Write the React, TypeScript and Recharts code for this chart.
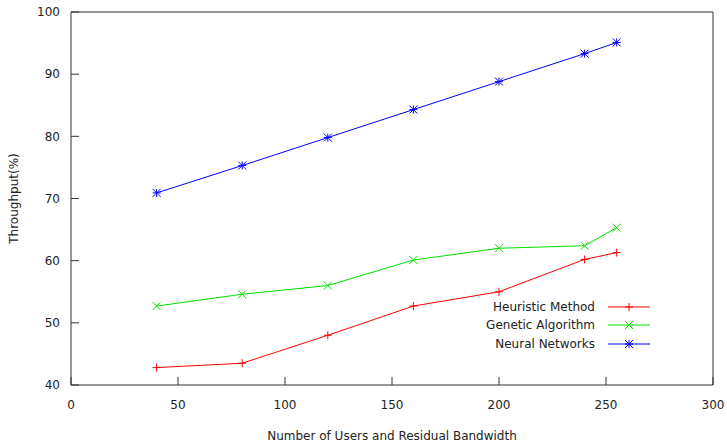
import { LineChart, Line, XAxis, YAxis, Legend } from 'recharts'

const users = [40, 80, 120, 160, 200, 240, 255]
const heuristic = [42.8, 43.5, 48.0, 52.7, 55.0, 60.2, 61.3]
const genetic = [52.7, 54.6, 56.0, 60.1, 62.0, 62.4, 65.3]
const neural = [70.9, 75.3, 79.8, 84.3, 88.8, 93.3, 95.1]

const xTicks = [0, 50, 100, 150, 200, 250, 300]
const yTicks = [40, 50, 60, 70, 80, 90, 100]

const SERIES = [
    { key: 'heuristic', name: 'Heuristic Method', color: '#ff0000', marker: 'plus' },
    { key: 'genetic', name: 'Genetic Algorithm', color: '#00e000', marker: 'cross' },
    { key: 'neural', name: 'Neural Networks', color: '#0000ff', marker: 'star' },
]

const FONT = 'DejaVu Sans, sans-serif'
const AXIS = '#333'

const data = users.map((x, i) => ({
    x,
    heuristic: heuristic[i],
    genetic: genetic[i],
    neural: neural[i],
}))

function markerPath(type: string, cx: number, cy: number) {
    const s = 4
    const plus = `M${cx - s},${cy}H${cx + s}M${cx},${cy - s}V${cy + s}`
    const cross = `M${cx - s},${cy - s}L${cx + s},${cy + s}M${cx - s},${cy + s}L${cx + s},${cy - s}`
    if (type === 'plus') return plus
    if (type === 'cross') return cross
    return plus + cross
}

const makeDot = (type: string, color: string) => (props: any) => {
    const { cx, cy, index } = props
    if (cx == null || cy == null) return <g key={`d-${type}-${index}`} />
    return <path key={`d-${type}-${index}`} d={markerPath(type, cx, cy)} stroke={color} strokeWidth={1} fill="none" />
}

function LegendBox() {
    return (
        <div style={{ fontFamily: FONT, fontSize: 12, color: '#222' }}>
            {SERIES.map(s => (
                <div key={s.key} style={{ display: 'flex', height: 18.3, lineHeight: '18.3px', alignItems: 'center' }}>
                    <span style={{ width: 145, textAlign: 'right', whiteSpace: 'nowrap' }}>{s.name}</span>
                    <svg width={60} height={18}>
                        <line x1={13} x2={55} y1={9} y2={9} stroke={s.color} strokeWidth={1} />
                        <path d={markerPath(s.marker, 34, 9)} stroke={s.color} strokeWidth={1} fill="none" />
                    </svg>
                </div>
            ))}
        </div>
    )
}

export default function App() {
    const tickStyle = { fontFamily: FONT, fontSize: 12, fill: '#222' }
    return (
        <div style={{ position: 'absolute', left: 0, top: 0, background: '#fff' }}>
            <LineChart width={727} height={443} data={data} margin={{ top: 11, right: 13, bottom: 0, left: 11 }}>
                <XAxis
                    dataKey="x"
                    type="number"
                    domain={[0, 300]}
                    ticks={xTicks}
                    height={58}
                    tickSize={-8}
                    tickMargin={23}
                    tick={tickStyle}
                    stroke={AXIS}
                    interval={0}
                    label={{ value: 'Number of Users and Residual Bandwidth', position: 'insideBottom', offset: 3, style: { fontFamily: FONT, fontSize: 12, fill: '#222' } }}
                />
                <XAxis xAxisId="top" orientation="top" dataKey="x" type="number" domain={[0, 300]} ticks={xTicks} height={1} tickSize={-8} tick={false} stroke={AXIS} interval={0} />
                <YAxis
                    type="number"
                    domain={[40, 100]}
                    ticks={yTicks}
                    width={60}
                    tickSize={-8}
                    tickMargin={19}
                    tick={tickStyle}
                    stroke={AXIS}
                    interval={0}
                    label={{ value: 'Throughput(%)', angle: -90, position: 'insideLeft', offset: 3, style: { fontFamily: FONT, fontSize: 12, fill: '#222', textAnchor: 'middle' } }}
                />
                <YAxis yAxisId="right" orientation="right" type="number" domain={[40, 100]} ticks={yTicks} width={1} tickSize={-8} tick={false} stroke={AXIS} interval={0} />
                <Legend
                    layout="vertical"
                    align="center"
                    verticalAlign="middle"
                    content={() => <LegendBox />}
                    wrapperStyle={{ left: 450, top: 298, width: 210 }}
                />
                {SERIES.map(s => (
                    <Line
                        key={s.key}
                        type="linear"
                        dataKey={s.key}
                        name={s.name}
                        stroke={s.color}
                        strokeWidth={1}
                        dot={makeDot(s.marker, s.color)}
                        activeDot={false}
                        isAnimationActive={false}
                    />
                ))}
                {/* invisible series so the mirrored top/right axes get drawn */}
                <Line
                    xAxisId="top"
                    yAxisId="right"
                    dataKey="neural"
                    stroke="none"
                    strokeWidth={0}
                    dot={false}
                    activeDot={false}
                    legendType="none"
                    isAnimationActive={false}
                />
            </LineChart>
        </div>
    )
}
